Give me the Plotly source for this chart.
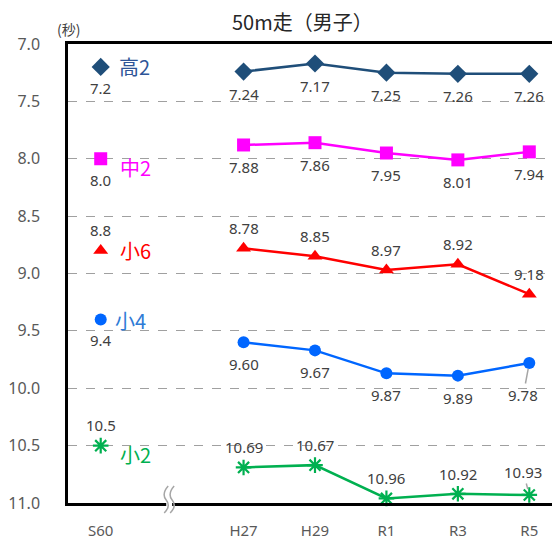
import plotly.graph_objects as go

periods = ["S60", " ", "H27", "H29", "R1", "R3", "R5"]
recent = ["H27", "H29", "R1", "R3", "R5"]

names = ["高2", "中2", "小6", "小4", "小2"]
s60_values = [7.2, 8.0, 8.8, 9.4, 10.5]
vals_k2 = [7.24, 7.17, 7.25, 7.26, 7.26]
vals_c2 = [7.88, 7.86, 7.95, 8.01, 7.94]
vals_s6 = [8.78, 8.85, 8.97, 8.92, 9.18]
vals_s4 = [9.60, 9.67, 9.87, 9.89, 9.78]
vals_s2 = [10.69, 10.67, 10.96, 10.92, 10.93]
series_values = [vals_k2, vals_c2, vals_s6, vals_s4, vals_s2]

y_ticks = [7.0, 7.5, 8.0, 8.5, 9.0, 9.5, 10.0, 10.5, 11.0]

colors = ["#1F4E79", "#FF00FF", "#FF0000", "#0066FF", "#00B050"]
name_colors = ["#2F5597", "#FF00FF", "#FF0000", "#2E7BD6", "#00B050"]
symbols = ["diamond", "square", "triangle-up", "circle", "asterisk-open"]
msizes = [14, 13, 13, 12, 13]
label_dir = [-1, -1, 1, -1, 1]  # -1 below, +1 above
name_shift = [(16, 0), (17, -9), (17, 0), (12, -1), (17, -9)]

LBL = "#404040"
FONT = "Noto Sans, Noto Sans CJK JP, sans-serif"
CJK = "Noto Sans CJK JP, sans-serif"

fig = go.Figure()
annotations = []

for i, nm in enumerate(names):
    mline = dict(width=2.2, color=colors[i]) if symbols[i] == "asterisk-open" else dict(width=0)
    fig.add_trace(go.Scatter(
        x=recent, y=series_values[i], mode="lines+markers",
        line=dict(color=colors[i], width=2.5),
        marker=dict(symbol=symbols[i], size=msizes[i], color=colors[i], line=mline),
        showlegend=False, cliponaxis=False))
    fig.add_trace(go.Scatter(
        x=["S60"], y=[s60_values[i]], mode="markers",
        marker=dict(symbol=symbols[i], size=msizes[i], color=colors[i], line=mline),
        showlegend=False, cliponaxis=False))
    annotations.append(dict(x="S60", y=s60_values[i], xref="x", yref="y", text=nm,
                            showarrow=False, xanchor="left", yanchor="middle",
                            xshift=name_shift[i][0], yshift=name_shift[i][1],
                            font=dict(size=20, color=name_colors[i], family=CJK)))
    d = label_dir[i]
    annotations.append(dict(x="S60", y=s60_values[i], xref="x", yref="y",
                            text=f"{s60_values[i]:.1f}", showarrow=False,
                            yshift=21 if d > 0 else -21,
                            font=dict(size=15, color=LBL, family=FONT)))
    for j, p in enumerate(recent):
        v = series_values[i][j]
        txt = f"{v:.2f}"
        if (nm == "小4" or nm == "小2") and p == "R5":
            ay = 32 if nm == "小4" else -23
            annotations.append(dict(x=p, y=v, xref="x", yref="y", text=txt,
                                    showarrow=True, arrowhead=0, arrowwidth=1.5,
                                    arrowcolor="#A6A6A6", ax=-6, ay=ay, standoff=6,
                                    font=dict(size=15, color=LBL, family=FONT)))
            continue
        annotations.append(dict(x=p, y=v, xref="x", yref="y", text=txt, showarrow=False,
                                yshift=20 if d > 0 else -22,
                                font=dict(size=15, color=LBL, family=FONT)))

# page offset (body margin) compensation
OFF = 8
L, T, W, H = 64 - OFF, 44 - OFF, 496, 462
FW, FH = 560 - OFF, 540 - OFF

def px(xp):
    return (xp - OFF - L) / W
def py(yp):
    return (T + H - (yp - OFF)) / H

annotations.append(dict(x=px(65), y=py(29), xref="paper", yref="paper", text="(秒)",
                        showarrow=False, xanchor="center", yanchor="middle",
                        font=dict(size=14, color=LBL, family=CJK)))
annotations.append(dict(x=px(300), y=py(21), xref="paper", yref="paper",
                        text="50m走（男子）", showarrow=False,
                        xanchor="center", yanchor="middle",
                        font=dict(size=20, color="#262626", family=CJK)))

def wave(x0):
    pts = [(x0 + 3, 489), (x0 - 4, 497), (x0 + 1, 503), (x0 + 6, 509), (x0 - 1, 516)]
    return (f"M {px(pts[0][0])},{py(pts[0][1])} "
            f"Q {px(pts[1][0])},{py(pts[1][1])} {px(pts[2][0])},{py(pts[2][1])} "
            f"Q {px(pts[3][0])},{py(pts[3][1])} {px(pts[4][0])},{py(pts[4][1])}")
shapes = [dict(type="rect", xref="paper", yref="paper",
               x0=px(163), x1=px(169), y0=py(509), y1=py(503),
               fillcolor="white", line=dict(width=0), layer="above")]
for x0 in (162, 168):
    shapes.append(dict(type="path", xref="paper", yref="paper", path=wave(x0),
                       line=dict(color="#A6A6A6", width=1.5), layer="above"))

fig.update_layout(
    width=FW, height=FH,
    margin=dict(l=L, r=0, t=T, b=FH - T - H),
    paper_bgcolor="white", plot_bgcolor="white",
    font=dict(family=FONT, color=LBL),
    xaxis=dict(type="category", categoryorder="array", categoryarray=periods,
               tickvals=[p for p in periods if p.strip()],
               range=[-0.458, 6.43], showgrid=False, zeroline=False,
               showline=True, linecolor="black", linewidth=2.5, mirror=True,
               ticks="", ticklabelstandoff=12,
               tickfont=dict(size=15, color="#595959", family=FONT)),
    yaxis=dict(range=[11.0, 7.0], tickvals=y_ticks,
               ticktext=[f"{t:.1f}" for t in y_ticks],
               showgrid=True, gridcolor="#A0A0A0", gridwidth=1, griddash="dash",
               zeroline=False, showline=True, linecolor="black", linewidth=2.5,
               ticks="", ticklabelstandoff=22,
               tickfont=dict(size=16, color="#595959", family=FONT)),
    annotations=annotations, shapes=shapes,
)

fig.write_html("out.html")
